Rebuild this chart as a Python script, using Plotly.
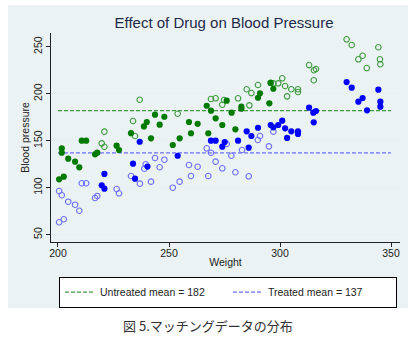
import plotly.graph_objects as go

# ---- data ----
untreated_x = [200.5, 202.6, 201.7, 201.7, 204.6, 207.7, 209.6, 210.7, 212.7, 216.7, 217.7, 226.4, 227.5,
               232.9, 241.9, 243.7, 247.9, 245.8, 238.7, 240.0, 251.7, 254.8, 259.0, 262.9, 259.9, 267.0,
               268.9, 271.0, 274.0, 267.7, 276.0, 278.2, 282.6, 282.6, 279.9, 290.1, 291.0, 297.0, 295.2, 295.8]
untreated_y = [108.9, 111.7, 141.9, 137.2, 130.9, 127.7, 121.7, 150.0, 150.0, 135.5, 137.2, 144.7, 140.1,
               158.0, 152.5, 177.7, 175.5, 167.0, 165.2, 169.9, 145.4, 152.5, 169.9, 168.0, 157.9, 187.2,
               181.9, 173.8, 166.7, 157.9, 192.6, 179.8, 186.2, 184.0, 162.1, 195.7, 200.4, 205.3, 189.8, 211.5]

untreated_cf_x = [236.8, 233.8, 234.7, 220.9, 219.7, 220.9, 253.9, 268.9, 271.0, 274.0, 274.8, 281.1, 286.2,
                  285.0, 287.1, 290.1, 295.8, 297.0, 299.2, 301.0, 302.3, 303.2, 305.1, 308.1, 308.1, 313.1,
                  315.3, 316.2, 315.2, 330.0, 332.3, 344.3, 335.3, 337.2, 339.1, 345.0, 345.2]
untreated_cf_y = [193.6, 171.0, 155.0, 159.6, 147.2, 143.6, 178.7, 194.4, 195.1, 188.3, 193.3, 195.1, 187.6,
                  204.7, 200.7, 209.3, 211.7, 211.0, 211.0, 216.4, 208.2, 197.2, 204.7, 204.7, 201.8, 230.5,
                  225.0, 226.3, 214.3, 257.9, 251.8, 249.4, 236.6, 240.4, 227.3, 236.6, 231.3]

treated_x = [236.8, 233.8, 234.7, 240.3, 220.9, 219.7, 220.9, 253.9, 268.9, 271.0, 274.0, 275.1, 281.1,
             285.9, 285.0, 287.1, 290.1, 295.8, 297.0, 299.2, 301.0, 302.3, 303.2, 305.1, 308.1, 308.1,
             313.1, 315.0, 316.2, 315.2, 330.0, 332.3, 344.3, 335.3, 337.2, 339.2, 345.2, 345.2]
treated_y = [148.9, 125.5, 109.6, 122.5, 114.6, 102.6, 98.9, 134.0, 150.0, 150.0, 143.6, 148.6, 150.0,
             142.6, 160.0, 155.0, 163.8, 166.7, 164.2, 166.7, 171.3, 163.2, 153.0, 160.0, 160.0, 157.1,
             185.1, 179.8, 181.6, 169.6, 212.4, 206.4, 204.3, 191.5, 195.4, 182.3, 191.5, 186.2]

treated_cf_x = [200.5, 202.6, 200.5, 201.7, 204.6, 207.7, 209.6, 210.7, 212.7, 216.7, 217.7, 226.4, 227.5,
                232.9, 236.9, 241.9, 243.7, 247.9, 245.8, 238.9, 239.5, 251.7, 254.8, 259.0, 262.9, 259.9,
                267.0, 268.9, 271.0, 274.0, 267.7, 276.0, 278.1, 282.9, 279.9, 285.9, 290.0, 291.0, 297.0, 295.0]
treated_cf_y = [63.2, 66.4, 96.5, 91.9, 85.1, 81.9, 75.5, 104.7, 104.7, 89.0, 91.2, 98.6, 94.0,
                112.4, 104.3, 106.4, 131.6, 129.8, 121.7, 120.2, 124.9, 100.0, 106.4, 124.1, 122.3, 112.4,
                141.9, 137.2, 127.7, 120.6, 112.4, 146.5, 134.0, 140.1, 116.4, 112.1, 150.7, 155.0, 159.6, 144.0]

mean_untreated = 182
mean_treated = 137
mean_span = [200, 350]

x_ticks = [200, 250, 300, 350]
y_ticks = [50, 100, 150, 200, 250]

title_text = "Effect of Drug on Blood Pressure"
x_title = "Weight"
y_title = "Blood pressure"
caption = "図 5.マッチングデータの分布"

FONT = "Liberation Sans, Arial, sans-serif"
GREEN = "#007a00"
GREEN_LIGHT = "#3f9a3f"
BLUE = "#0000ff"
BLUE_LIGHT = "#6e6eff"

fig = go.Figure()

fig.add_trace(go.Scatter(x=mean_span, y=[mean_untreated] * 2, mode="lines",
                         line=dict(color=GREEN_LIGHT, width=1.2, dash="4px,2px"),
                         name=f"Untreated mean = {mean_untreated}", showlegend=True))
fig.add_trace(go.Scatter(x=mean_span, y=[mean_treated] * 2, mode="lines",
                         line=dict(color=BLUE_LIGHT, width=1.2, dash="4px,2px"),
                         name=f"Treated mean = {mean_treated}", showlegend=True))

fig.add_trace(go.Scatter(x=untreated_cf_x, y=untreated_cf_y, mode="markers", showlegend=False,
                         marker=dict(symbol="circle-open", size=5.5, color=GREEN_LIGHT, line=dict(width=1.1))))
fig.add_trace(go.Scatter(x=treated_cf_x, y=treated_cf_y, mode="markers", showlegend=False,
                         marker=dict(symbol="circle-open", size=5.5, color=BLUE_LIGHT, line=dict(width=1.1))))
fig.add_trace(go.Scatter(x=untreated_x, y=untreated_y, mode="markers", showlegend=False,
                         marker=dict(symbol="circle", size=6.2, color=GREEN, line=dict(width=0))))
fig.add_trace(go.Scatter(x=treated_x, y=treated_y, mode="markers", showlegend=False,
                         marker=dict(symbol="circle", size=6.2, color=BLUE, line=dict(width=0))))

fig.update_layout(
    width=417, height=340,
    margin=dict(l=51, r=17, t=33, b=98),
    paper_bgcolor="white",
    plot_bgcolor="white",
    font=dict(family=FONT, size=10.5, color="#222222"),
    title=dict(text=title_text, x=224 / 417, xanchor="center", y=1 - 22.5 / 340, yanchor="middle",
               font=dict(size=15, color="#1e2b4a", family=FONT)),
    xaxis=dict(range=[196.85, 354.05], tickvals=x_ticks, ticks="outside", ticklen=4, tickwidth=1,
               tickcolor="#222", showline=True, linecolor="#222", linewidth=1, showgrid=False,
               zeroline=False, title=dict(text=x_title, standoff=1, font=dict(size=10.5)),
               tickfont=dict(size=10.5), ticklabelstandoff=-3),
    yaxis=dict(range=[42.2, 264.6], tickvals=y_ticks, ticks="outside", ticklen=4, tickwidth=1,
               tickcolor="#222", showline=True, linecolor="#222", linewidth=1, showgrid=True,
               gridcolor="#e8f0f2", gridwidth=1, zeroline=False, tickangle=-90,
               title=dict(text=y_title, standoff=0, font=dict(size=10.5)), tickfont=dict(size=10.5)),
    legend=dict(orientation="h", x=(59 - 51) / 349, xanchor="left", y=-0.166, yanchor="top",
                bordercolor="black", borderwidth=1, bgcolor="white",
                font=dict(size=10.5, color="#222"), entrywidth=123, entrywidthmode="pixels",
                tracegroupgap=0, itemwidth=30),
    shapes=[dict(type="rect", xref="paper", yref="paper", x0=(8 - 51) / 349, x1=(408 - 51) / 349,
                 y0=(242 - 308) / 209, y1=(242 - 5) / 209, fillcolor="#eaf2f3", line=dict(width=0),
                 layer="below")],
    annotations=[dict(text=caption, xref="paper", yref="paper", x=(208 - 51) / 349, y=(242 - 325) / 209,
                      xanchor="center", yanchor="middle", showarrow=False,
                      font=dict(family="Noto Sans CJK JP", size=13, color="#333333"))],
)

fig.write_html("out.html")
